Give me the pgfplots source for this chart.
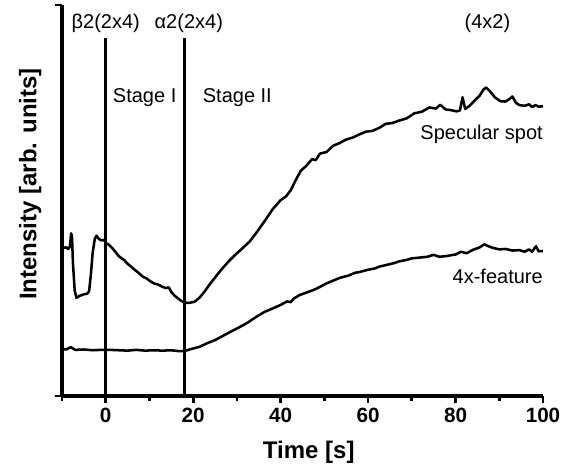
\documentclass[border=0pt]{standalone}
\usepackage{fontspec}
\setmainfont{Liberation Sans}
\usepackage{pgfplots}
\pgfplotsset{compat=1.18}

% Specular spot and 4x-feature intensity traces (arb. units)
\pgfplotstableread{
t I
-10 37.9
-9 38.0
-8.6 37.6
-8.2 38.2
-7.9 41.6
-7.7 40.5
-7.5 34
-7.1 27
-6.7 25.1
-6 25.6
-5 26.0
-4.2 26.2
-3.8 26.8
-3.4 31
-3.0 36.5
-2.5 40.2
-2.1 41.0
-1.6 40.2
-1 39.8
-0.4 39.9
0 39.2
0.8 38.6
1.5 37.8
2.2 36.9
2.8 36.0
3.5 35.3
4.2 34.8
5.0 33.8
5.8 33.1
6.6 32.3
7.5 31.5
8.5 30.5
9.3 30.1
10 29.5
11 28.8
12 28.5
13 27.9
13.8 27.6
14.4 27.8
15 26.6
15.8 25.6
16.6 24.9
17.3 24.3
18 23.9
19 23.8
20.3 24.1
21.5 25.2
22.6 26.7
23.8 28.6
25 30.3
26.5 32.4
28 34.3
29.5 36.0
31 37.5
33 39.6
34.8 42.3
36.5 45.0
38.2 47.8
40 50.1
41.2 51.0
42.3 52.6
43.4 55.1
44.6 57.6
45.8 58.8
47.2 60.6
48 60.3
49 62.0
50.5 62.4
52 64.0
53.5 64.7
55 65.6
56.5 66.1
58 66.9
59.5 67.6
61 67.8
62.6 68.6
64 69.6
65.5 69.8
67 70.4
68.8 71.0
70.6 72.3
72.3 72.7
74 73.8
75.5 73.5
76.5 74.5
77.7 73.3
79 73.1
80.2 72.8
81 73.0
81.6 76.4
82.2 73.4
83.2 74.2
84.3 75.5
85.5 76.8
86.4 78.4
87 78.9
87.8 78.0
89 76.4
90.2 75.4
91.4 75.3
92.4 76.0
93 76.6
93.8 75.0
94.6 74.4
95.8 74.2
96.8 74.6
97.5 73.9
98.3 74.4
99 74.0
100 74.1
}\specular

\pgfplotstableread{
t I
-10 12.0
-9 11.9
-8 12.5
-7 11.8
-5 11.9
-3 11.7
-1 11.8
1 11.8
3 11.7
5 11.6
7 11.8
9 11.6
11 11.7
13 11.6
15 11.7
16.5 11.5
18 11.5
19.5 12.0
21.5 12.6
23 13.4
25 14.3
27 15.5
29 16.7
30.6 17.6
32.5 18.8
34.5 20.3
36.3 21.5
38.2 22.4
40 23.3
41.5 24.2
42.3 24.0
43 24.9
44.3 25.8
46 26.5
47.5 27.1
49 27.9
50.3 28.7
51.8 29.4
53.5 30.2
55.5 30.8
57 31.5
58 31.7
60 32.3
61.5 32.6
62.6 33.1
64.5 33.6
66 34.0
67 34.4
68.8 34.8
70 35.2
71.8 35.4
73.5 35.6
75 36.1
76.3 35.6
78 35.8
80 36.2
81.3 36.9
82.5 36.5
84 37.4
85.5 38.0
86.6 38.8
87.3 38.4
88.5 37.9
90 37.5
91.5 37.6
93 37.2
94.6 37.3
95.8 36.9
96.8 37.5
97.5 36.9
98.4 38.3
99 37.0
100 37.1
}\feature

\begin{document}
\begin{tikzpicture}
  \begin{axis}[
      name=ax,
      scale only axis,
      width=360.75pt, height=293.25pt,
      xmin=-10, xmax=100, ymin=0, ymax=100,
      axis x line*=bottom, axis y line*=left,
      x axis line style={-, line width=2.5pt},
      y axis line style={-, line width=2.8pt},
      xtick={0,20,...,100},
      minor xtick={-10,10,30,50,70,90},
      ytick={0,100}, yticklabels={},
      tick align=outside,
      major tick length=5.5pt, minor tick length=3.5pt,
      every tick/.style={black, line width=2pt},
      /pgf/number format/assume math mode=true,
      tick label style={font=\fontsize{15.5}{17}\selectfont\bfseries},
      xlabel={Time [s]},
      ylabel={Intensity [arb. units]},
      label style={font=\fontsize{18}{20}\selectfont\bfseries},
      xlabel style={at={(axis description cs:0.513,-0.143)}, anchor=center},
      ylabel style={at={(axis description cs:-0.066,0.542)}, anchor=center},
      clip=false,
    ]
    \addplot[black, line width=2pt] coordinates {(0,0) (0,91.6)};
    \addplot[black, line width=2pt] coordinates {(18,0) (18,91.6)};
    \addplot[black, line width=1.9pt, line join=round] table[x=t, y=I] {\specular};
    \addplot[black, line width=1.9pt, line join=round] table[x=t, y=I] {\feature};
    \begin{scope}[every node/.style={font=\fontsize{15}{17}\selectfont, inner sep=0pt}]
      \node at (axis cs:0,95.4) {β2(2x4)};
      \node at (axis cs:19,95.4) {α2(2x4)};
      \node at (axis cs:87.3,95.4) {(4x2)};
      \node at (axis cs:8.9,76.2) {Stage I};
      \node at (axis cs:30.1,76.2) {Stage II};
      \node[anchor=east] at (axis cs:100,66.8) {Specular spot};
      \node[anchor=east] at (axis cs:100,30.7) {4x-feature};
    \end{scope}
  \end{axis}
  \path ([xshift=-46.5pt,yshift=-55.5pt]ax.south west) ([xshift=23.25pt,yshift=3.75pt]ax.north east);
\end{tikzpicture}
\end{document}
